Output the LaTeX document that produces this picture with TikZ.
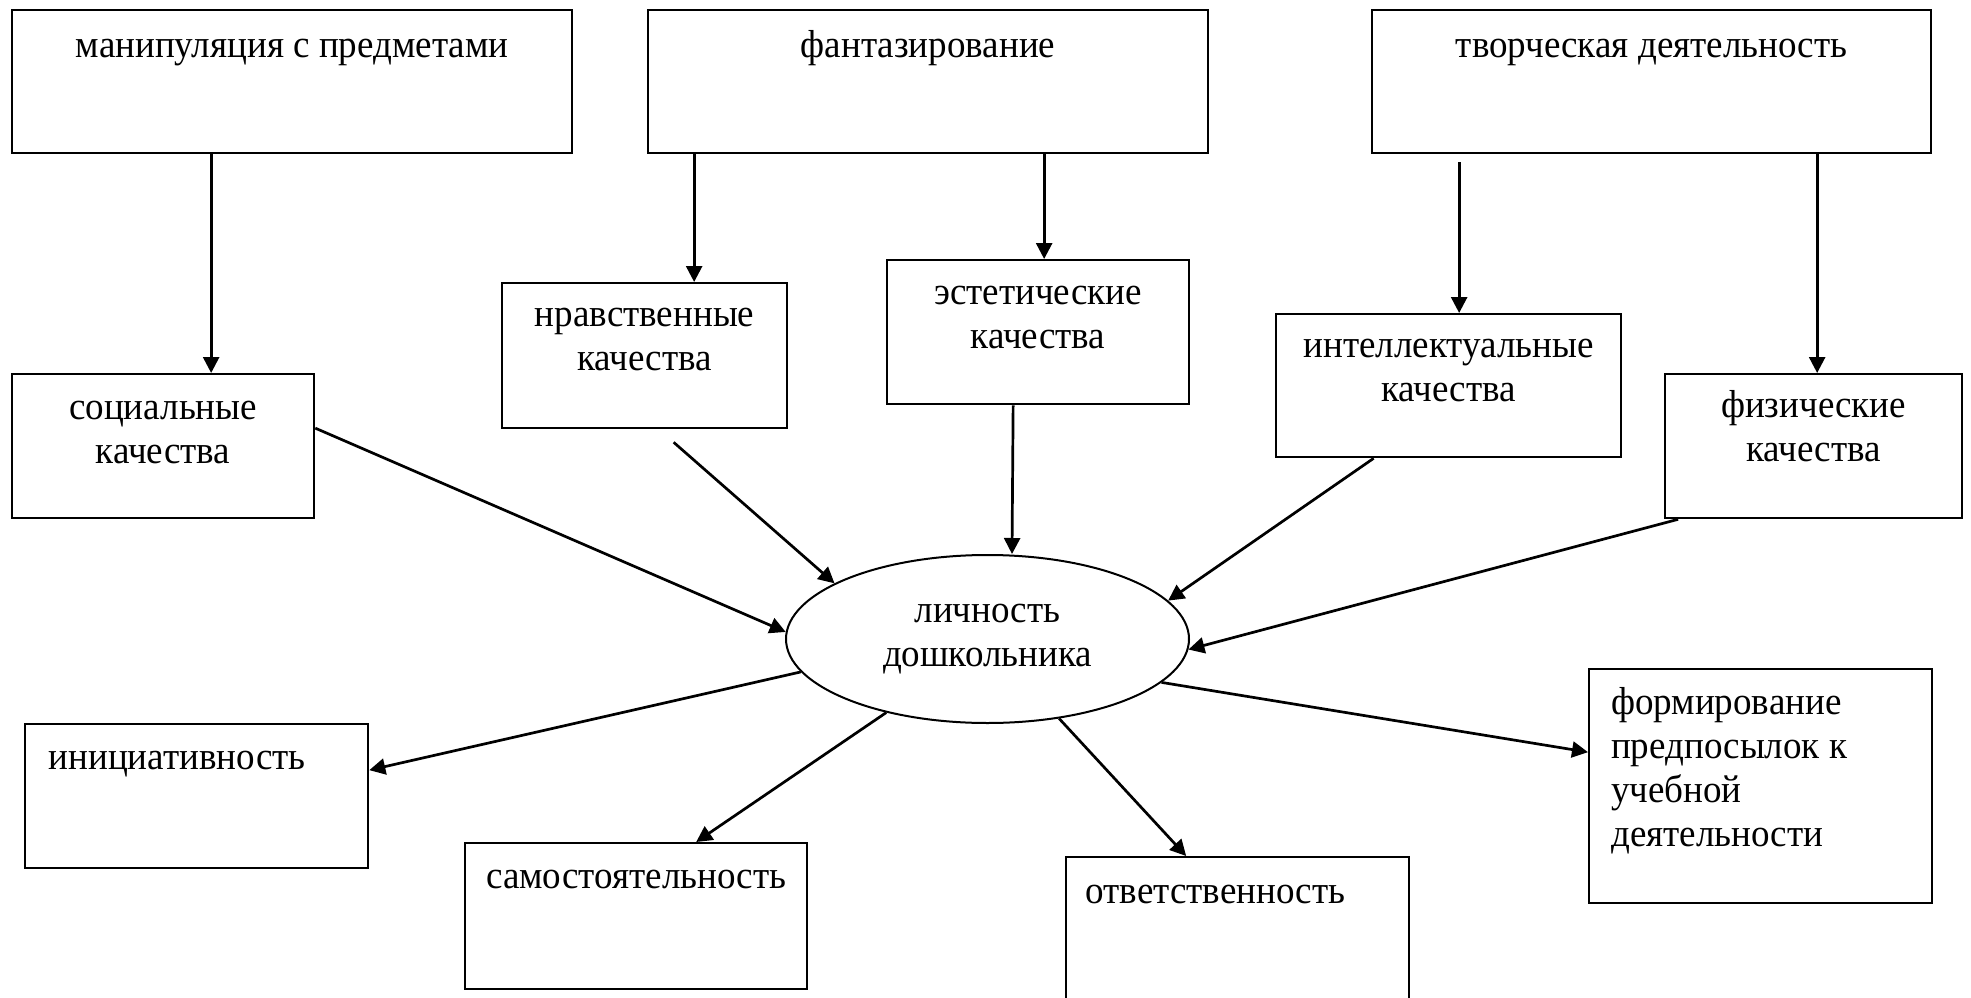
\documentclass[tikz,border=0pt]{standalone}
\usepackage{fontspec}
\setmainfont{Liberation Serif}[FakeStretch=0.95]
\usepackage{tikz}
\usetikzlibrary{arrows.meta,shapes.geometric}

\begin{document}
\begin{tikzpicture}[x=1pt, y=-1pt, line width=2.3pt, >={Triangle[length=16pt,width=16pt]},
		box/.style = {draw, anchor=north west, inner sep=0pt},
		txt/.style = {inner sep=0pt, align=center, font=\fontsize{39}{44}\selectfont},
		oval/.style = {draw, ellipse, line width=2pt, minimum width=403pt, minimum height=168pt, inner sep=0pt, align=center, font=\fontsize{39}{44}\selectfont},
		arr/.style = {->, line width=2.7pt}]
		\useasboundingbox (0,0) rectangle (1971,998);
		\clip (0,0) rectangle (1971,998);
		
		% top row
		\node[box] (manip) at (11,9) [minimum width=560pt, minimum height=143pt] {};
		\node[box] (fant) at (647,9) [minimum width=560pt, minimum height=143pt] {};
		\node[box] (tvor) at (1371,9) [minimum width=559pt, minimum height=143pt] {};
		\node[txt, anchor=base] (manipText) at ([yshift=-49pt]manip.north) {манипуляция с предметами};
		\node[txt, anchor=base] (fantText) at ([yshift=-49pt]fant.north) {фантазирование};
		\node[txt, anchor=base] (tvorText) at ([yshift=-49pt]tvor.north) {творческая деятельность};
		
		% qualities (base = last line)
		\node[box] (soc) at (11,373) [minimum width=302pt, minimum height=144pt] {};
		\node[box] (moral) at (501,282) [minimum width=285pt, minimum height=145pt] {};
		\node[box] (estet) at (886,259) [minimum width=302pt, minimum height=144pt] {};
		\node[box] (intel) at (1275,313) [minimum width=345pt, minimum height=143pt] {};
		\node[box] (phys) at (1664,373) [minimum width=297pt, minimum height=144pt] {};
		\node[txt, anchor=base] (socText) at ([yshift=-90pt]soc.north) {социальные\\качества};
		\node[txt, anchor=base] (moralText) at ([yshift=-88pt]moral.north) {нравственные\\качества};
		\node[txt, anchor=base] (estetText) at ([yshift=-89pt]estet.north) {эстетические\\качества};
		\node[txt, anchor=base] (intelText) at ([yshift=-88pt]intel.north) {интеллектуальные\\качества};
		\node[txt, anchor=base] (physText) at ([yshift=-88pt]phys.north) {физические\\качества};
		
		\node[oval] (pers) at (987.5,639) {личность\\дошкольника};
		
		% results
		\node[box] (init) at (24,723) [minimum width=343pt, minimum height=144pt] {};
		\node[box] (indep) at (464,842) [minimum width=342pt, minimum height=146pt] {};
		\node[box] (resp) at (1065,856) [minimum width=343pt, minimum height=160pt] {};
		\node[box] (study) at (1588,668) [minimum width=343pt, minimum height=234pt] {};
		\node[txt, anchor=base west] (initText) at ([xshift=23.5pt,yshift=-46pt]init.north west) {инициативность};
		\node[txt, anchor=base west] (indepText) at ([xshift=21pt,yshift=-46pt]indep.north west) {самостоятельность};
		\node[txt, anchor=base west] (respText) at ([xshift=19.5pt,yshift=-47pt]resp.north west) {ответственность};
		\node[txt, anchor=base west, align=left] (studyText) at ([xshift=22pt,yshift=-178pt]study.north west) {формирование\\предпосылок к\\учебной\\деятельности};
		
		\draw[arr] ([xshift=-81pt]manip.south) -- ([xshift=48pt]soc.north);
		\draw[arr] ([xshift=-234pt]fant.south) -- ([xshift=49.5pt]moral.north);
		\draw[arr] ([xshift=116pt]fant.south) -- ([xshift=6pt]estet.north);
		\draw[arr] ([xshift=-192.5pt,yshift=-8pt]tvor.south) -- ([xshift=10.5pt]intel.north);
		\draw[arr] ([xshift=165.5pt]tvor.south) -- ([xshift=3.5pt]phys.north);
		
		\draw[arr] ([yshift=18pt]soc.east) -- (pers.178);
		\draw[arr] ([xshift=29pt,yshift=-13pt]moral.south) -- (pers.160);
		\draw[arr] ([xshift=-25pt]estet.south) -- ([xshift=24.5pt]pers.north);
		\draw[arr] ([xshift=-75pt]intel.south) -- (pers.12);
		\draw[arr] ([xshift=-135.5pt]phys.south) -- (pers.-3);
		
		\draw[arr] (pers.190) -- ([yshift=26pt]init.east);
		\draw[arr] (pers.216) -- ([xshift=60pt]indep.north);
		\draw[arr] (pers.-48) -- ([xshift=-51.5pt]resp.north);
		\draw[arr] (pers.-14) -- ([yshift=34pt]study.west);
	\end{tikzpicture}
\end{document}
